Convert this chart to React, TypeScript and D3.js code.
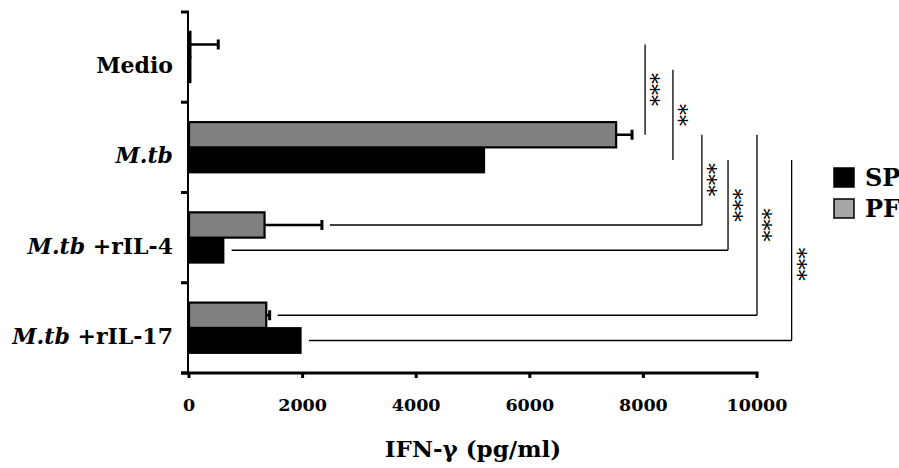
import React, { useEffect, useRef } from "react";
import * as d3 from "d3";

// categories (top to bottom) and the two series
const categories = ["Medio", "M.tb", "M.tb +rIL-4", "M.tb +rIL-17"];
const seriesNames = ["PF", "SP"];

// IFN-γ (pg/ml)
const pfValues = [25, 7520, 1330, 1360];
const pfErrors = [490, 280, 1010, 60];
const spValues = [30, 5200, 610, 1970];

const xTicks = [0, 2000, 4000, 6000, 8000, 10000];

// significance brackets: vertical line at x (pg/ml) between two bars
const brackets = [
  { x: 8030, from: ["Medio", "PF"], to: ["M.tb", "PF"], stars: "***", leg: false, starDy: 0 },
  { x: 8520, from: ["Medio", "SP"], to: ["M.tb", "SP"], stars: "**", leg: false, starDy: 0 },
  { x: 9030, from: ["M.tb", "PF"], to: ["M.tb +rIL-4", "PF"], stars: "***", leg: true, starDy: 0 },
  { x: 9490, from: ["M.tb", "SP"], to: ["M.tb +rIL-4", "SP"], stars: "***", leg: true, starDy: 0 },
  { x: 10000, from: ["M.tb", "PF"], to: ["M.tb +rIL-17", "PF"], stars: "***", leg: true, starDy: 0 },
  { x: 10610, from: ["M.tb", "SP"], to: ["M.tb +rIL-17", "SP"], stars: "***", leg: true, starDy: 14 },
];

const W = 899;
const H = 468;
const FONT = "'DejaVu Serif', serif";

export default function App() {
  const ref = useRef<SVGSVGElement>(null);

  useEffect(() => {
    const node = ref.current;
    if (!node) return;
    const svg = d3.select(node);
    svg.selectAll("*").remove();

    const x = d3.scaleLinear().domain([0, 10000]).range([189, 757]);
    const y = d3
      .scaleBand()
      .domain(categories)
      .range([12, 373])
      .paddingInner(0.44)
      .paddingOuter(0.22);
    const sub = d3.scaleBand().domain(seriesNames).range([0, y.bandwidth()]);

    const rows = categories.map((c, i) => ({
      cat: c,
      pf: pfValues[i],
      pfErr: pfErrors[i],
      sp: spValues[i],
    }));
    const barEnd = (cat: string, s: string) => {
      const r = rows.find(d => d.cat === cat)!;
      return s === "PF" ? r.pf + r.pfErr : r.sp;
    };
    const cy = (cat: string, s: string) => (y(cat) ?? 0) + (sub(s) ?? 0) + sub.bandwidth() / 2;

    const g = svg.append("g");

    // SP bars (black, lower)
    g.selectAll("rect.sp")
      .data(rows)
      .enter()
      .append("rect")
      .attr("x", x(0))
      .attr("y", d => (y(d.cat) ?? 0) + (sub("SP") ?? 0))
      .attr("width", d => x(d.sp) - x(0))
      .attr("height", sub.bandwidth())
      .attr("fill", "#000")
      .attr("stroke", "#000")
      .attr("stroke-width", 1.5);

    // PF bars (gray, upper)
    g.selectAll("rect.pf")
      .data(rows)
      .enter()
      .append("rect")
      .attr("x", x(0))
      .attr("y", d => (y(d.cat) ?? 0) + (sub("PF") ?? 0))
      .attr("width", d => x(d.pf) - x(0))
      .attr("height", sub.bandwidth())
      .attr("fill", "#808080")
      .attr("stroke", "#000")
      .attr("stroke-width", 2.2);

    // PF error bars
    const eb = g.selectAll("g.err").data(rows).enter().append("g");
    eb.append("line")
      .attr("x1", d => x(d.pf))
      .attr("x2", d => x(d.pf + d.pfErr))
      .attr("y1", d => cy(d.cat, "PF"))
      .attr("y2", d => cy(d.cat, "PF"))
      .attr("stroke", "#000")
      .attr("stroke-width", 2.5);
    eb.append("line")
      .attr("x1", d => x(d.pf + d.pfErr))
      .attr("x2", d => x(d.pf + d.pfErr))
      .attr("y1", d => cy(d.cat, "PF") - 5)
      .attr("y2", d => cy(d.cat, "PF") + 5)
      .attr("stroke", "#000")
      .attr("stroke-width", 3);

    // y axis: line with ticks between groups
    const step = y.step();
    const bounds = categories.map(c => (y(c) ?? 0) - (step * y.paddingInner()) / 2);
    bounds.push(y.range()[1]);
    g.append("line")
      .attr("x1", x(0) - 1)
      .attr("x2", x(0) - 1)
      .attr("y1", y.range()[0])
      .attr("y2", y.range()[1])
      .attr("stroke", "#000")
      .attr("stroke-width", 2);
    g.selectAll("line.ytick")
      .data(bounds)
      .enter()
      .append("line")
      .attr("x1", x(0) - 8)
      .attr("x2", x(0))
      .attr("y1", d => d)
      .attr("y2", d => d)
      .attr("stroke", "#000")
      .attr("stroke-width", 3);

    // x axis
    const xa = g.append("g").attr("transform", `translate(0,${y.range()[1]})`);
    xa.append("line")
      .attr("x1", x(0) - 8)
      .attr("x2", x(10000) + 1.5)
      .attr("stroke", "#000")
      .attr("stroke-width", 3);
    xa.selectAll("line.t")
      .data(xTicks)
      .enter()
      .append("line")
      .attr("x1", d => x(d))
      .attr("x2", d => x(d))
      .attr("y1", 0)
      .attr("y2", 5)
      .attr("stroke", "#000")
      .attr("stroke-width", 3);
    xa.selectAll("text")
      .data(xTicks)
      .enter()
      .append("text")
      .attr("x", d => x(d))
      .attr("y", 38)
      .attr("text-anchor", "middle")
      .attr("font-family", FONT)
      .attr("font-weight", "bold")
      .attr("font-size", 17.5)
      .text(d => d);

    svg.append("text")
      .attr("x", (x(0) + x(10000)) / 2)
      .attr("y", 457)
      .attr("text-anchor", "middle")
      .attr("font-family", FONT)
      .attr("font-weight", "bold")
      .attr("font-size", 23)
      .text("IFN-γ (pg/ml)");

    // category labels
    const lab = g
      .selectAll("text.cat")
      .data(categories)
      .enter()
      .append("text")
      .attr("x", 173)
      .attr("y", d => (y(d) ?? 0) + y.bandwidth() / 2 + 16)
      .attr("text-anchor", "end")
      .attr("font-family", FONT)
      .attr("font-weight", "bold")
      .attr("font-size", 22);
    lab.each(function (d) {
      const t = d3.select(this);
      if (d.startsWith("M.tb")) {
        t.append("tspan").attr("font-style", "italic").text("M.tb");
        const rest = d.slice(4);
        if (rest) t.append("tspan").text(rest);
      } else {
        t.text(d);
      }
    });

    // significance brackets
    const br = g.selectAll("g.br").data(brackets).enter().append("g");
    br.append("line")
      .attr("x1", d => x(d.x))
      .attr("x2", d => x(d.x))
      .attr("y1", d => cy(d.from[0], d.from[1]))
      .attr("y2", d => cy(d.to[0], d.to[1]))
      .attr("stroke", "#000")
      .attr("stroke-width", 1.3);
    br.filter(d => d.leg)
      .append("line")
      .attr("x1", d => x(barEnd(d.to[0], d.to[1])) + 8)
      .attr("x2", d => x(d.x))
      .attr("y1", d => cy(d.to[0], d.to[1]))
      .attr("y2", d => cy(d.to[0], d.to[1]))
      .attr("stroke", "#000")
      .attr("stroke-width", 1.3);
    br.append("text")
      .attr("transform", d => {
        const my = (cy(d.from[0], d.from[1]) + cy(d.to[0], d.to[1])) / 2 + d.starDy;
        return `translate(${x(d.x) - 2},${my}) rotate(90)`;
      })
      .attr("text-anchor", "middle")
      .attr("font-family", FONT)
      .attr("font-size", 22)
      .text(d => d.stars);

    // legend
    const legend = [
      { name: "SP", fill: "#000" },
      { name: "PF", fill: "#a6a6a6" },
    ];
    const lg = svg
      .selectAll("g.lg")
      .data(legend)
      .enter()
      .append("g")
      .attr("transform", (_d, i) => `translate(834,${168 + i * 31})`);
    lg.append("rect")
      .attr("width", 20)
      .attr("height", 19)
      .attr("fill", d => d.fill)
      .attr("stroke", "#000")
      .attr("stroke-width", 1.5);
    lg.append("text")
      .attr("x", 31)
      .attr("y", 18)
      .attr("font-family", FONT)
      .attr("font-weight", "bold")
      .attr("font-size", 24)
      .text(d => d.name);
  }, []);

  return (
    <svg
      ref={ref}
      width={W}
      height={H}
      viewBox={`0 0 ${W} ${H}`}
      style={{ position: "absolute", left: 0, top: 0, background: "#fff" }}
    />
  );
}
